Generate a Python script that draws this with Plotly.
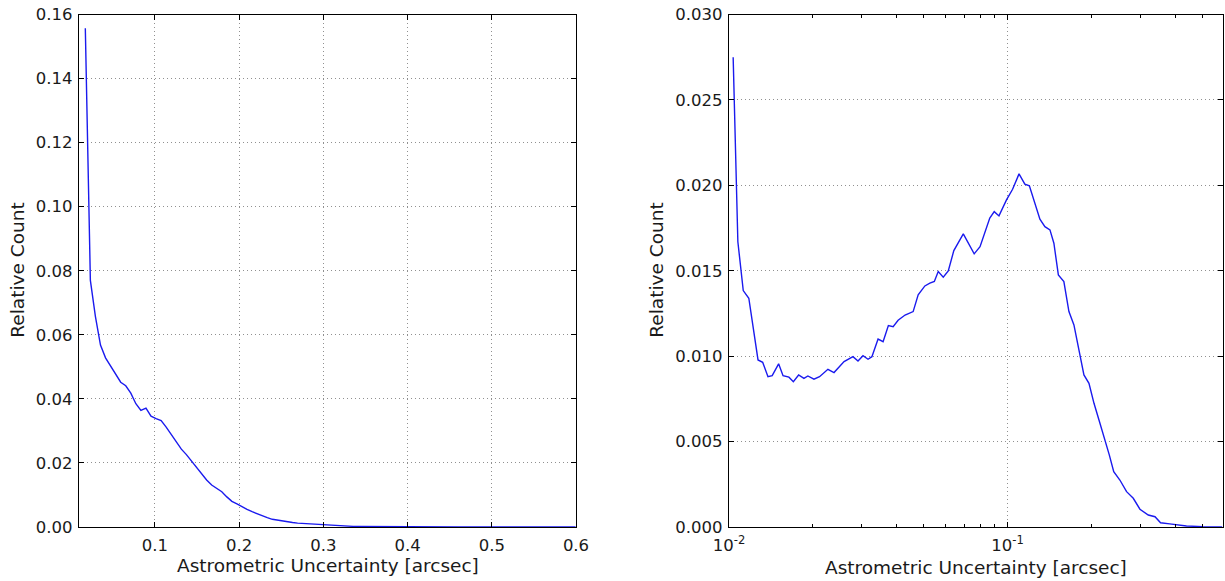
import plotly.graph_objects as go

# ---- Left panel: linear histogram ----
left_x = [0.0175, 0.0235, 0.0295, 0.0355, 0.0415, 0.0475, 0.0535, 0.0595, 0.0655, 0.0715,
          0.0775, 0.0835, 0.0895, 0.0955, 0.1015, 0.1075, 0.1135, 0.1195, 0.1255, 0.1315,
          0.1375, 0.1435, 0.1495, 0.1555, 0.1615, 0.1675, 0.1735, 0.1795, 0.1855, 0.1915,
          0.1975, 0.2035, 0.2095, 0.2155, 0.2215, 0.2275, 0.2335, 0.2395, 0.2455, 0.2515,
          0.2575, 0.2635, 0.2695, 0.2755, 0.2815, 0.2875, 0.2935, 0.2995, 0.3055, 0.3115,
          0.3175, 0.3235, 0.3295, 0.3355, 0.3415, 0.36, 0.38, 0.40, 0.43, 0.46,
          0.50, 0.55, 0.5995]
left_y = [0.1557, 0.0770, 0.0657, 0.0568, 0.0528, 0.0503, 0.0477, 0.0452, 0.0441, 0.0418,
          0.0385, 0.0364, 0.0371, 0.0346, 0.0338, 0.0332, 0.0312, 0.0290, 0.0265, 0.0243,
          0.0226, 0.0206, 0.0186, 0.0164, 0.0147, 0.0131, 0.0120, 0.0110, 0.0094, 0.0080,
          0.0072, 0.0063, 0.0055, 0.0048, 0.0041, 0.0035, 0.0029, 0.0024, 0.0021, 0.0018,
          0.0016, 0.0014, 0.0012, 0.0011, 0.0009, 0.0008, 0.0007, 0.0006, 0.0005, 0.0005,
          0.0004, 0.0003, 0.0003, 0.0002, 0.0002, 0.00015, 0.0001, 0.00008, 0.00005, 0.00003,
          0.00002, 0.00001, 0.0]

# ---- Right panel: log-binned histogram ----
right_x = [0.01035, 0.01076, 0.01125, 0.01178, 0.01271, 0.01321, 0.01380, 0.01429, 0.01507, 0.01563,
           0.01641, 0.01702, 0.01778, 0.01858, 0.01919, 0.02018, 0.02113, 0.02265, 0.02382, 0.02588,
           0.02786, 0.02904, 0.03027, 0.03155, 0.03258, 0.03428, 0.03573, 0.03733, 0.03882, 0.04046,
           0.04285, 0.04581, 0.04775, 0.05047, 0.05260, 0.05458, 0.05636, 0.05875, 0.06124, 0.06412,
           0.06934, 0.07586, 0.07962, 0.08630, 0.08954, 0.09311, 0.09908, 0.1042, 0.1099, 0.1153,
           0.1197, 0.1253, 0.1306, 0.1361, 0.1419, 0.1466, 0.1521, 0.1592, 0.1660, 0.1730,
           0.1807, 0.1879, 0.1959, 0.2042, 0.2128, 0.2218, 0.2317, 0.2404, 0.2529, 0.2673,
           0.2825, 0.2985, 0.3199, 0.3381, 0.3540, 0.3819, 0.4385, 0.5012, 0.5888]
right_y = [0.0275, 0.0167, 0.01384, 0.01339, 0.00978, 0.00964, 0.0088, 0.00886, 0.00955, 0.00886,
           0.00877, 0.00851, 0.0089, 0.0087, 0.00884, 0.00865, 0.0088, 0.00923, 0.00904, 0.00968,
           0.00997, 0.00972, 0.01003, 0.00982, 0.00997, 0.0110, 0.01085, 0.01179, 0.01173, 0.0121,
           0.01241, 0.01261, 0.01359, 0.01411, 0.01427, 0.01437, 0.01495, 0.01462, 0.01499, 0.01618,
           0.01716, 0.01599, 0.01641, 0.01808, 0.01846, 0.01821, 0.01915, 0.01977, 0.02067, 0.02007,
           0.01997, 0.01895, 0.01802, 0.01758, 0.01739, 0.01661, 0.01476, 0.01437, 0.01261, 0.01183,
           0.01036, 0.0089, 0.00841, 0.00724, 0.00626, 0.00529, 0.00422, 0.00324, 0.00275, 0.00207,
           0.00168, 0.00104, 0.0007, 0.0006, 0.00025, 0.00018, 0.00006, 0.00002, 0.0]

left_xticks = [0.1, 0.2, 0.3, 0.4, 0.5, 0.6]
left_xticktext = ["0.1", "0.2", "0.3", "0.4", "0.5", "0.6"]
left_yticks = [0.00, 0.02, 0.04, 0.06, 0.08, 0.10, 0.12, 0.14, 0.16]
right_xticks = [0.01, 0.1]
right_xticktext = ["10<sup>-2</sup>", "10<sup>-1</sup>"]
right_minor = [0.02, 0.03, 0.04, 0.05, 0.06, 0.07, 0.08, 0.09, 0.2, 0.3, 0.4, 0.5]
right_yticks = [0.000, 0.005, 0.010, 0.015, 0.020, 0.025, 0.030]

xtitle = "Astrometric Uncertainty [arcsec]"
ytitle = "Relative Count"

LINE = "#1a1aee"
TICKFONT = dict(family="DejaVu Sans", size=16.5, color="#1a1a1a")
TITLEFONT = dict(family="DejaVu Sans", size=18.5, color="#1a1a1a")
W, H = 1225, 581

# plot-area pixel frames
L_X0, L_X1 = 79, 576
R_X0, R_X1 = 729, 1223
Y_TOP, Y_BOT = 14.5, 527

fig = go.Figure()
fig.add_trace(go.Scatter(x=left_x, y=left_y, mode="lines",
                         line=dict(color=LINE, width=1.4), xaxis="x", yaxis="y",
                         showlegend=False, hoverinfo="skip"))
fig.add_trace(go.Scatter(x=right_x, y=right_y, mode="lines",
                         line=dict(color=LINE, width=1.4), xaxis="x2", yaxis="y2",
                         showlegend=False, hoverinfo="skip"))

ydom = [1 - Y_BOT / H, 1 - Y_TOP / H]
common = dict(showline=True, linecolor="black", linewidth=1.3, mirror="ticks",
              ticks="inside", ticklen=5, tickcolor="black", tickwidth=1,
              showgrid=True, gridcolor="#909090", griddash="1px,3px", gridwidth=1,
              zeroline=False, tickfont=TICKFONT, automargin=False)

fig.update_layout(
    width=W, height=H, margin=dict(l=0, r=0, t=0, b=0),
    paper_bgcolor="white", plot_bgcolor="white", font=TICKFONT,
    xaxis=dict(domain=[L_X0 / W, L_X1 / W], range=[0.01, 0.6], tickvals=left_xticks,
               ticktext=left_xticktext, anchor="y", ticklabelstandoff=3, **common),
    yaxis=dict(domain=ydom, range=[0, 0.16], tickvals=left_yticks, tickformat=".2f",
               anchor="x", ticklabelstandoff=2, **common),
    xaxis2=dict(domain=[R_X0 / W, R_X1 / W], type="log", range=[-2, -0.2269],
                tickvals=right_xticks, ticktext=right_xticktext,
                minor=dict(tickvals=right_minor, ticks="inside", ticklen=3,
                           tickcolor="black", showgrid=False),
                anchor="y2", ticklabelstandoff=3, **common),
    yaxis2=dict(domain=ydom, range=[0, 0.03], tickvals=right_yticks, tickformat=".3f",
                anchor="x2", ticklabelstandoff=2, **common),
)

annots = [
    dict(text=xtitle, x=(L_X0 + L_X1) / 2 / W, y=1 - 565 / H, xanchor="center", yanchor="middle"),
    dict(text=xtitle, x=(R_X0 + R_X1) / 2 / W, y=1 - 567 / H, xanchor="center", yanchor="middle"),
    dict(text=ytitle, x=18 / W, y=1 - (Y_TOP + Y_BOT) / 2 / H, xanchor="center", yanchor="middle",
         textangle=-90),
    dict(text=ytitle, x=657 / W, y=1 - (Y_TOP + Y_BOT) / 2 / H, xanchor="center", yanchor="middle",
         textangle=-90),
]
for a in annots:
    fig.add_annotation(xref="paper", yref="paper", showarrow=False, font=TITLEFONT, **a)

fig.write_html("out.html")
